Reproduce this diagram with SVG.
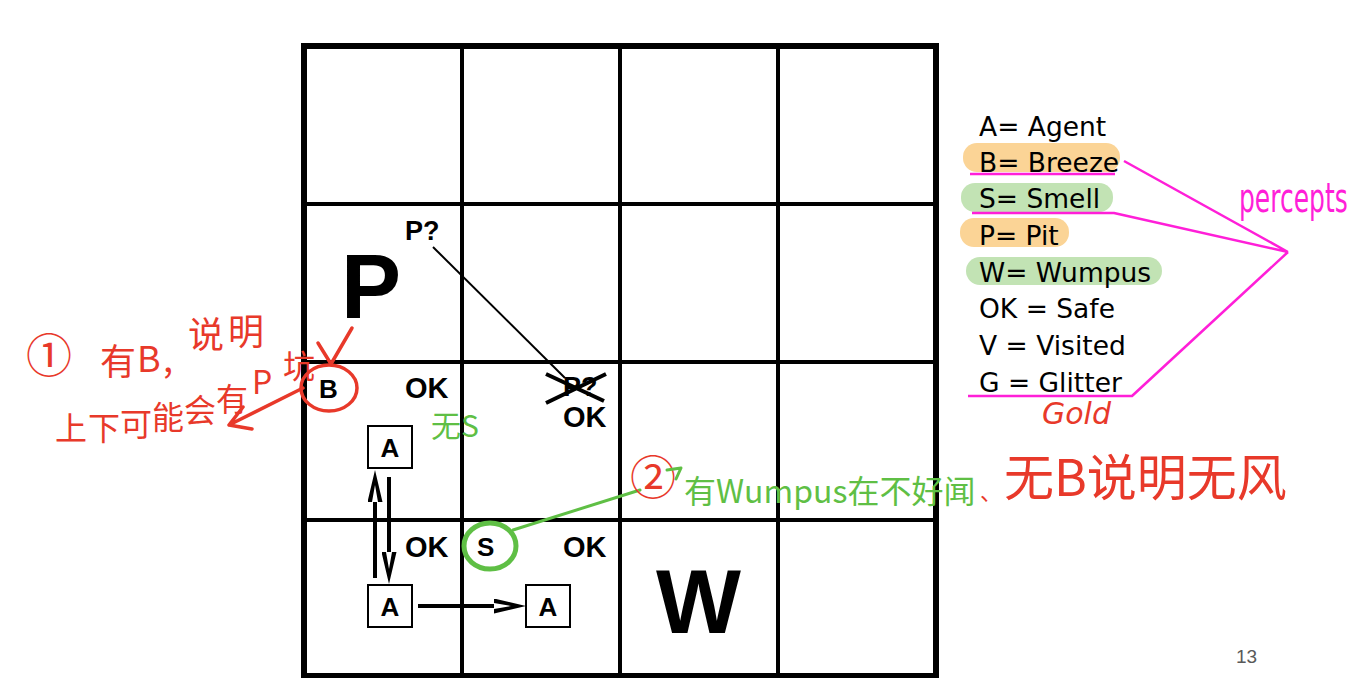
<svg xmlns="http://www.w3.org/2000/svg" width="1352" height="678" viewBox="0 0 1352 678">
<style>
.grid{fill:none;stroke:#000}
.lbl{font-family:"Liberation Sans",Arial,sans-serif;font-weight:bold;fill:#000}
.leg{font-family:"DejaVu Sans",sans-serif;font-size:26.5px;fill:#000}
.box{fill:#fff;stroke:#000;stroke-width:2}
.shaft{stroke:#000;stroke-width:4;fill:none}
.red{fill:#e8392a;font-family:"Noto Sans CJK SC",sans-serif}
.redl{fill:none;stroke:#e8392a;stroke-width:3.5;stroke-linecap:round;stroke-linejoin:round}
.grn{fill:#5fbf45;font-family:"Noto Sans CJK SC",sans-serif}
.grnl{fill:none;stroke:#5fbf45;stroke-width:3;stroke-linecap:round;stroke-linejoin:round}
.mag{fill:none;stroke:#ff1fd8;stroke-width:2.5;stroke-linejoin:round}
.hlo{fill:#fbd496}
.hlg{fill:#c2e3b4}
</style>
<defs>
<marker id="head" markerUnits="userSpaceOnUse" viewBox="0 0 32 15" refX="0" refY="7.5" markerWidth="32" markerHeight="15" orient="auto">
<path d="M0,0 L32,7.5 L0,15 L0,10.5 L17,7.5 L0,4.5 Z" fill="#000"/>
</marker>
</defs>
<rect width="1352" height="678" fill="#fff"/>

<g id="grid">
<rect class="grid" x="304" y="46" width="632" height="630" stroke-width="6"/>
<path class="grid" stroke-width="4" d="M462,46V678 M620,46V678 M778,46V678 M304,204H936 M304,362H936 M304,520H936"/>
</g>

<g id="cell-pit">
<text class="lbl" x="405" y="240" font-size="27">P?</text>
<text class="lbl" x="341" y="318" font-size="90">P</text>
</g>
<g id="cell-breeze">
<text class="lbl" x="319" y="398" font-size="26">B</text>
<text class="lbl" x="405" y="398" font-size="29">OK</text>
</g>
<g id="cell-crossed">
<text class="lbl" x="563" y="396" font-size="27">P?</text>
<text class="lbl" x="563" y="427" font-size="29">OK</text>
<path d="M546,374 L604,401 M546,403 L606,374" stroke="#000" stroke-width="4" fill="none"/>
</g>
<g id="cell-start">
<text class="lbl" x="405" y="557" font-size="29">OK</text>
</g>
<g id="cell-smell">
<text class="lbl" x="477" y="556" font-size="26">S</text>
<text class="lbl" x="563" y="557" font-size="29">OK</text>
</g>
<g id="cell-wumpus">
<text class="lbl" x="656" y="633" font-size="90">W</text>
</g>

<g id="agent-1">
<rect class="box" x="368" y="426" width="44" height="42"/>
<text class="lbl" x="390" y="457" font-size="26" text-anchor="middle">A</text>
</g>
<g id="agent-2">
<rect class="box" x="368" y="585" width="44" height="42"/>
<text class="lbl" x="390" y="616" font-size="26" text-anchor="middle">A</text>
</g>
<g id="agent-3">
<rect class="box" x="526" y="585" width="44" height="42"/>
<text class="lbl" x="548" y="616" font-size="26" text-anchor="middle">A</text>
</g>

<g id="connectors">
<path class="shaft" d="M375,578 V502" marker-end="url(#head)"/>
<path class="shaft" d="M389,477 V552" marker-end="url(#head)"/>
<path class="shaft" d="M418,606 H494" marker-end="url(#head)"/>
<path d="M433,247 L565,378" stroke="#000" stroke-width="2" fill="none"/>
</g>

<g id="legend">
<rect class="hlo" x="963" y="143" width="157" height="29" rx="14"/>
<rect class="hlg" x="961" y="183" width="152" height="29" rx="14"/>
<rect class="hlo" x="960" y="218" width="109" height="29" rx="14"/>
<rect class="hlg" x="966" y="257" width="196" height="28" rx="14"/>
<text class="leg" x="979" y="136">A= Agent</text>
<text class="leg" x="979" y="172">B= Breeze</text>
<text class="leg" x="979" y="208">S= Smell</text>
<text class="leg" x="979" y="245">P= Pit</text>
<text class="leg" x="979" y="282">W= Wumpus</text>
<text class="leg" x="979" y="318">OK = Safe</text>
<text class="leg" x="979" y="355">V = Visited</text>
<text class="leg" x="979" y="392">G = Glitter</text>
</g>

<g id="percepts-note">
<path class="mag" d="M970,174 H1115 M1124,161 L1288,252 M972,213 H1114 L1288,252 M968,396 H1132 L1288,252"/>
<text transform="translate(1239,212) scale(1,1.6)" x="0" y="0" font-family="'DejaVu Sans',sans-serif" font-size="25" fill="#ff1fd8">percepts</text>
<text x="1042" y="424" font-family="'DejaVu Sans',sans-serif" font-size="30" fill="#e8392a" font-style="italic">Gold</text>
</g>

<g id="note-1">
<text class="red" x="26" y="372" font-size="46">①</text>
<text class="red" font-size="36" x="100 137 163" y="375 372 372">有B,</text>
<text class="red" font-size="36" x="188 228" y="348 345">说明</text>
<text class="red" font-size="32" x="55 88" y="440 440">上下</text>
<text class="red" font-size="32" x="120 152 184" y="436 429 422">可能会</text>
<text class="red" font-size="32" x="216" y="411">有</text>
<text class="red" font-size="32" x="252" y="394">P</text>
<text class="red" font-size="32" x="283" y="378">坑</text>
<ellipse class="redl" cx="329" cy="388" rx="28" ry="23"/>
<path class="redl" d="M318,343 L331,364 L352,328"/>
<path class="redl" d="M303,388 L231,424 M243,407 L229,425 L252,429"/>
</g>

<g id="note-smell">
<text class="grn" x="431" y="437" font-size="30">无S</text>
</g>

<g id="note-2">
<ellipse cx="490" cy="546" rx="26" ry="23" fill="none" stroke="#5fbf45" stroke-width="5"/>
<path class="grnl" d="M513,530 L640,490"/>
<text class="red" x="630" y="494" font-size="46">②</text>
<path class="grnl" d="M667,470 L681,468 L676,479"/>
<text class="grn" x="684" y="503" font-size="32">有Wumpus在不好闻</text>
<text class="red" x="980" y="500" font-size="22">、</text>
<text class="red" x="1004" y="496" font-size="50">无B说明无风</text>
</g>

<text x="1236" y="663" font-family="'Liberation Sans',Arial,sans-serif" font-size="19" fill="#595959">13</text>
</svg>
